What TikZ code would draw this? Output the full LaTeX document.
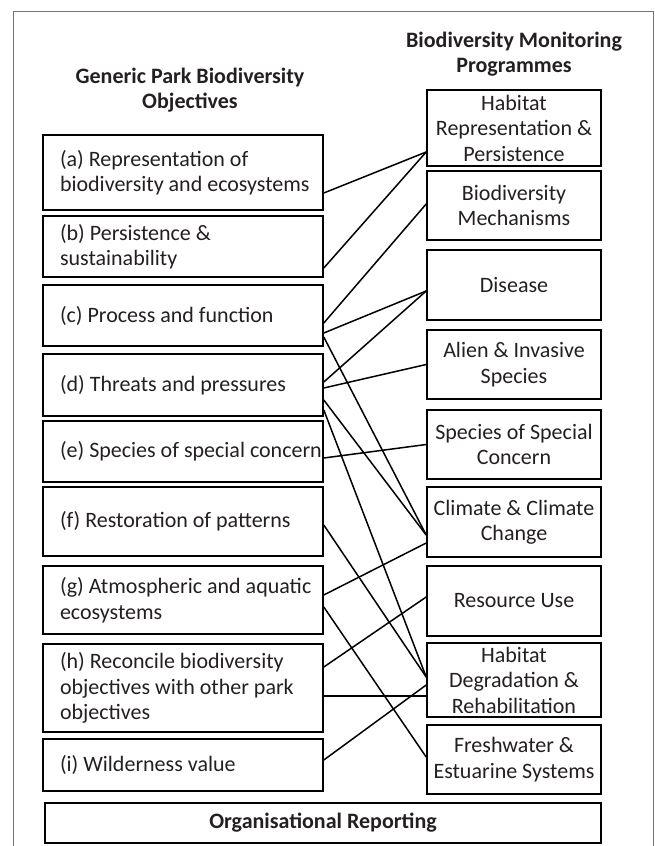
\documentclass[tikz,border=0pt]{standalone}
\usepackage{fontspec}
\setmainfont{Carlito}
\usepackage{tikz}
\usetikzlibrary{positioning}
\definecolor{inkgrey}{rgb}{0.14,0.12,0.13}
\definecolor{framegrey}{rgb}{0.45,0.45,0.45}
\newcommand{\boxfont}{\fontsize{22}{25.5}\selectfont}

\begin{document}
\begin{tikzpicture}[x=1pt,y=-1pt]
\tikzstyle{objective}=[rectangle, draw=black, line width=1.6pt, text width=246pt, inner xsep=17pt, inner ysep=0pt, align=flush left, font=\boxfont, text=inkgrey]
\tikzstyle{programme}=[rectangle, draw=black, line width=1.6pt, minimum width=174pt, inner sep=0pt, align=center, font=\boxfont, text=inkgrey]
\tikzstyle{heading}=[inner sep=0pt, align=center, font=\boxfont\bfseries, text=inkgrey]
\tikzstyle{link}=[line width=1.5pt, black]

\useasboundingbox (0,0) rectangle (655,846);
\draw[framegrey, line width=1pt] (13.5,846) -- (13.5,11) -- (653.5,11) -- (653.5,846);

\node[heading] (h_obj) at (190,90) {Generic Park Biodiversity\\Objectives};
\node[heading] (h_prog) at (514,54) {Biodiversity Monitoring\\Programmes};

\node[objective, minimum height=75pt] (o_a) at (183,172.5) {(a) Representation of\\\mbox{biodiversity and ecosystems}};
\node[objective, minimum height=61pt] (o_b) at (183,246.5) {(b) Persistence \&\\sustainability};
\node[objective, minimum height=61pt] (o_c) at (183,315.5) {(c) Process and function};
\node[objective, minimum height=62pt] (o_d) at (183,385) {(d) Threats and pressures};
\node[objective, minimum height=61pt] (o_e) at (183,451.5) {\mbox{(e) Species of special concern}};
\node[objective, minimum height=69pt] (o_f) at (183,521.5) {(f) Restoration of patterns};
\node[objective, minimum height=68pt] (o_g) at (183,600) {\mbox{(g) Atmospheric and aquatic}\\ecosystems};
\node[objective, minimum height=88pt] (o_h) at (183,688) {(h) Reconcile biodiversity\\objectives with other park\\objectives};
\node[objective, minimum height=52pt] (o_i) at (183,765) {(i) Wilderness value};

\node[programme, minimum height=76pt] (p_hab) at (514,128) {Habitat\\Representation \&\\Persistence};
\node[programme, minimum height=69pt] (p_bio) at (514,205.5) {Biodiversity\\Mechanisms};
\node[programme, minimum height=70pt] (p_dis) at (514,285) {Disease};
\node[programme, minimum height=69pt] (p_ali) at (514,364.5) {Alien \& Invasive\\Species};
\node[programme, minimum height=69pt] (p_ssc) at (514,444.5) {Species of Special\\Concern};
\node[programme, minimum height=70pt] (p_cli) at (514,522) {Climate \& Climate\\Change};
\node[programme, minimum height=70pt] (p_res) at (514,601) {Resource Use};
\node[programme, minimum height=74pt] (p_deg) at (514,680) {Habitat\\Degradation \&\\Rehabilitation};
\node[programme, minimum height=69pt] (p_fre) at (514,759.5) {Freshwater \&\\Estuarine Systems};

\node[programme, minimum width=556pt, minimum height=40pt, font=\boxfont\bfseries] (rep) at (323,823) {Organisational Reporting};

\path[link]
	([yshift=-20.5pt]o_a.east) edge ([yshift=-24pt]p_hab.west)
	([yshift=-21.5pt]o_b.east) edge ([yshift=-24pt]p_hab.west)
	([yshift=-7.5pt]o_c.east) edge ([yshift=1.5pt]p_bio.west)
	([yshift=-17.5pt]o_c.east) edge ([yshift=-6pt]p_dis.west)
	([yshift=-21.5pt]o_c.east) edge ([yshift=-13pt]p_cli.west)
	([yshift=3pt]o_d.east) edge ([yshift=-6pt]p_dis.west)
	([yshift=-3pt]o_d.east) edge (p_ali.west)
	([yshift=-15pt]o_d.east) edge ([yshift=-13pt]p_cli.west)
	([yshift=-25pt]o_d.east) edge ([yshift=3pt]p_deg.west)
	([yshift=-6.5pt]o_e.east) edge (p_ssc.west)
	([yshift=-3.5pt]o_f.east) edge ([yshift=3pt]p_deg.west)
	([yshift=5pt]o_g.east) edge ([yshift=-21pt]p_cli.west)
	([yshift=-7pt]o_g.east) edge ([yshift=2.5pt]p_fre.west)
	([yshift=21pt]o_h.east) edge ([yshift=4pt]p_res.west)
	([yshift=-8pt]o_h.east) edge ([yshift=-16pt]p_deg.west)
	([yshift=5pt]o_i.east) edge ([yshift=-5pt]p_deg.west);

\end{tikzpicture}
\end{document}
